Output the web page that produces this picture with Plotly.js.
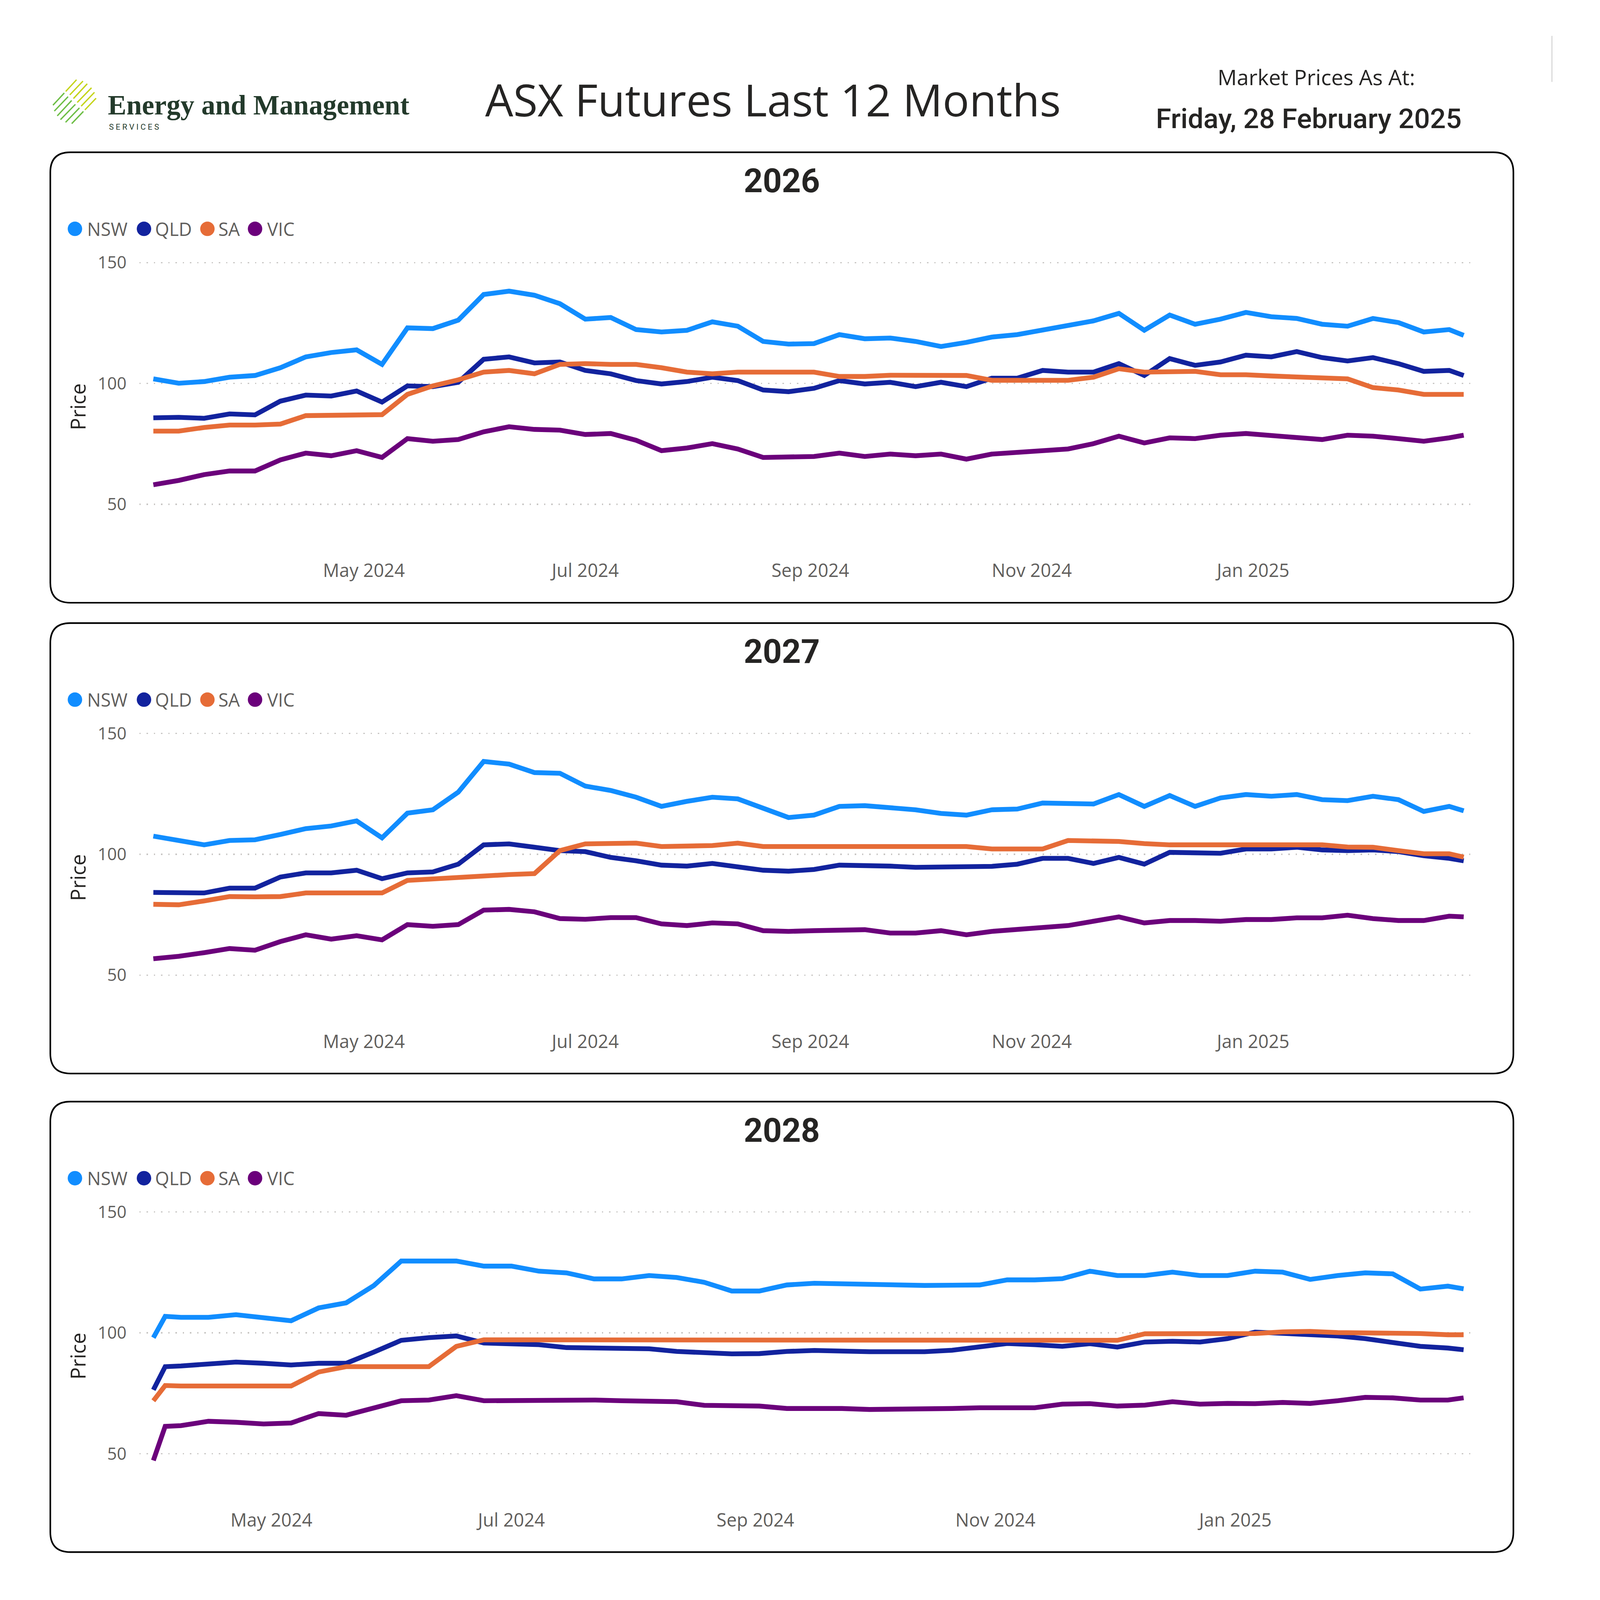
<!DOCTYPE html>
<html>
<head>
<meta charset="utf-8">
<script src="https://cdn.plot.ly/plotly-3.0.1.min.js"></script>
<style>
  html, body { margin: 0; padding: 0; background: #ffffff; overflow: hidden; }
</style>
</head>
<body>
<div id="chart"></div>
<script>
// ---- data (weekly samples) ----
const regions = ['NSW', 'QLD', 'SA', 'VIC'];
const regionColors = ['#118DFF', '#12239E', '#E66C37', '#6B007B'];
const years = ['2026', '2027', '2028'];

const weeks = ['2024-03-04','2024-03-11','2024-03-18','2024-03-25','2024-04-01','2024-04-08','2024-04-15','2024-04-22','2024-04-29',
  '2024-05-06','2024-05-13','2024-05-20','2024-05-27','2024-06-03','2024-06-10','2024-06-17','2024-06-24','2024-07-01','2024-07-08',
  '2024-07-15','2024-07-22','2024-07-29','2024-08-05','2024-08-12','2024-08-19','2024-08-26','2024-09-02','2024-09-09','2024-09-16',
  '2024-09-23','2024-09-30','2024-10-07','2024-10-14','2024-10-21','2024-10-28','2024-11-04','2024-11-11','2024-11-18','2024-11-25',
  '2024-12-02','2024-12-09','2024-12-16','2024-12-23','2024-12-30','2025-01-06','2025-01-13','2025-01-20','2025-01-27','2025-02-03',
  '2025-02-10','2025-02-17','2025-02-24','2025-02-28'];
// the 2028 contract only trades from April
const weeks28 = ['2024-04-01','2024-04-04'].concat(weeks.slice(5));

const nsw2026 = [101.9,100.1,100.8,102.6,103.3,106.5,111.0,112.8,113.9,107.9,123.0,122.7,126.2,136.8,138.2,136.5,133.0,126.6,127.3,122.3,
  121.3,122.0,125.5,123.7,117.4,116.3,116.5,120.2,118.5,118.8,117.4,115.3,117.0,119.2,120.2,122.0,123.7,125.9,129.0,122.0,128.3,124.5,
  126.6,129.4,127.6,126.9,124.5,123.7,126.9,125.2,121.3,122.3,119.9];
const qld2026 = [85.8,86.0,85.6,87.4,87.0,92.7,95.2,94.8,96.9,92.3,99.0,98.7,100.5,110.0,111.0,108.5,108.9,105.4,104.0,101.2,
  99.8,100.8,102.6,101.2,97.3,96.6,98.0,101.2,99.8,100.5,98.7,100.5,98.7,102.2,102.2,105.4,104.7,104.7,108.2,103.3,110.3,107.5,
  108.9,111.7,111.0,113.2,110.7,109.3,110.7,108.2,105.0,105.4,103.3];
const sa2026 = [80.3,80.3,81.8,82.8,82.8,83.2,86.7,86.7,87.1,87.1,95.5,99.0,101.5,104.7,105.4,104.0,107.9,108.2,107.9,107.9,
  106.5,104.7,104.0,104.7,104.7,104.7,104.7,102.9,102.9,103.4,103.4,103.4,103.3,101.3,101.3,101.3,101.3,102.6,106.1,104.7,104.7,105.0,
  103.6,103.6,103.1,102.7,102.4,101.9,98.3,97.3,95.5,95.5,95.5];
const vic2026 = [58.1,59.9,62.3,63.8,63.8,68.4,71.2,70.1,72.2,69.4,77.2,76.1,76.8,80.0,82.1,81.0,80.7,78.9,79.3,76.5,
  72.2,73.3,75.1,72.9,69.4,69.8,69.8,71.2,69.8,70.8,70.1,70.8,68.7,70.8,71.5,71.9,72.9,75.1,78.2,75.4,77.5,77.2,
  78.6,79.3,78.6,77.9,76.8,78.6,78.2,77.2,76.1,77.5,78.6];

const nsw2027 = [107.5,105.7,103.9,105.7,106.0,108.2,110.6,111.7,113.8,106.8,117.0,118.4,125.7,138.4,137.3,133.8,133.5,128.2,126.4,123.6,
  119.8,121.9,123.6,122.9,119.1,115.2,116.2,119.8,120.1,119.4,118.4,116.9,116.2,118.4,118.7,121.2,121.2,120.8,124.7,119.8,124.3,119.8,
  123.3,124.7,124.0,124.7,122.6,122.2,124.0,122.6,117.7,119.8,118.0];
const qld2027 = [84.2,83.9,84.0,86.0,86.0,90.6,92.3,92.3,93.4,89.9,92.3,92.7,95.9,103.9,104.3,102.9,101.5,101.1,98.7,97.3,
  95.5,95.1,96.2,94.8,93.4,93.0,93.7,95.5,95.5,95.1,94.6,94.8,94.8,95.0,95.9,98.3,98.3,96.2,98.7,95.9,100.8,100.8,
  100.4,102.2,102.2,102.9,101.8,101.5,101.8,101.1,99.4,98.3,97.3];
const sa2027 = [79.3,79.1,80.7,82.5,82.4,82.5,84.0,84.0,84.0,84.0,89.2,89.9,90.6,91.3,91.6,92.0,101.5,104.3,104.6,104.6,
  103.2,103.2,103.6,104.6,103.2,103.2,103.2,103.2,103.2,103.2,103.2,103.2,103.2,102.2,102.2,102.2,105.7,105.3,105.3,104.4,103.9,103.9,
  103.9,103.9,103.9,103.9,103.9,103.0,102.9,101.5,100.2,100.2,98.8];
const vic2027 = [56.8,57.8,59.3,61.0,60.3,63.9,66.7,64.9,66.3,64.6,70.9,70.2,70.9,76.9,77.2,76.2,73.4,73.1,73.8,73.8,
  71.2,70.5,71.6,71.2,68.4,68.1,68.4,68.8,68.8,67.4,67.4,68.4,66.7,68.1,68.8,69.8,70.5,72.3,74.1,71.6,72.6,72.6,
  72.3,73.0,73.0,73.7,73.7,74.8,73.4,72.6,72.6,74.4,74.1];

const nsw2028 = [98.0,106.8,106.4,106.4,107.5,106.1,105.0,110.3,112.4,119.5,129.7,129.7,129.7,127.6,127.6,125.5,124.8,122.3,122.3,123.7,
  122.9,120.9,117.3,117.3,119.8,120.5,120.3,119.8,119.7,119.6,119.7,119.8,121.9,121.9,122.4,125.5,123.7,123.7,125.1,123.7,
  123.7,125.5,125.1,122.1,123.7,124.8,124.4,118.1,119.3,118.2];
const qld2028 = [76.4,86.0,86.3,87.0,87.9,87.4,86.7,87.4,87.4,92.0,96.9,98.0,98.7,95.8,95.5,95.1,93.9,93.7,93.4,93.4,
  92.3,91.6,91.3,91.4,92.3,92.7,92.3,92.2,92.2,92.2,92.8,94.1,95.6,95.1,94.4,95.5,94.1,96.2,96.5,96.2,
  97.6,100.3,99.9,99.4,98.7,97.6,96.2,94.4,93.7,93.0];
const sa2028 = [71.9,78.2,78.0,78.0,78.0,78.0,78.0,83.8,86.0,86.0,86.0,86.0,94.4,97.1,97.1,97.1,97.1,97.1,97.1,97.1,
  97.1,97.1,97.1,97.1,97.1,97.0,97.0,97.0,97.0,97.0,97.0,97.0,97.0,97.0,97.0,97.0,96.9,99.6,99.7,99.7,
  99.7,99.7,100.4,100.6,100.1,100.1,100.1,99.7,99.2,99.2];
const vic2028 = [47.2,61.3,61.6,63.4,63.0,62.3,62.7,66.6,65.9,68.7,71.9,72.2,74.0,71.9,72.0,72.2,72.2,72.2,71.9,71.5,
  71.5,70.0,70.0,69.7,68.7,68.8,68.7,68.3,68.3,68.3,68.7,69.0,69.0,69.0,70.5,70.7,69.7,70.1,71.5,70.5,
  70.8,70.7,71.2,70.8,71.9,73.3,73.1,72.2,72.2,73.1];

const monthTicks = ['2024-05-01', '2024-07-01', '2024-09-01', '2024-11-01', '2025-01-01'];
const monthLabels = ['May 2024', 'Jul 2024', 'Sep 2024', 'Nov 2024', 'Jan 2025'];
const priceTicks = [50, 100, 150];

const pageTitle = 'ASX Futures Last 12 Months';
const asAtLabel = 'Market Prices As At:';
const asAtDate = 'Friday, 28 February 2025';


window.addEventListener('DOMContentLoaded', init);

// layout is worked out on a 5910 x 5978 page and scaled to the window
const W = 5910;
const H = 5978;
const TEXT = '#252423';
const GREY = '#605E5C';
let S = 1;

function px(x) { return x / W; }
function py(y) { return 1 - y / H; }
function z(v) { return v * S; }

function init() {
    let vw = window.innerWidth || W;
    let vh = window.innerHeight || H;
    S = Math.min(vw / W, vh / H);
    if (!isFinite(S) || S <= 0) S = 1;

    let panels = [
        { year: years[0], dates: weeks,   series: [nsw2026, qld2026, sa2026, vic2026], range: ['2024-02-29 04:00', '2025-03-03 00:00'], top: 569 },
        { year: years[1], dates: weeks,   series: [nsw2027, qld2027, sa2027, vic2027], range: ['2024-02-29 04:00', '2025-03-03 00:00'], top: 2328 },
        { year: years[2], dates: weeks28, series: [nsw2028, qld2028, sa2028, vic2028], range: ['2024-03-28 11:00', '2025-03-02 19:00'], top: 4116 }
    ];

    let data = [];
    let layout = {
        width: Math.floor(W * S), height: Math.floor(H * S),
        margin: { l: 0, r: 0, t: 0, b: 0 },
        paper_bgcolor: '#ffffff',
        plot_bgcolor: 'rgba(0,0,0,0)',
        showlegend: false,
        shapes: [],
        annotations: []
    };

    headerItems(layout);

    panels.forEach((p, k) => {
        let n = k === 0 ? '' : String(k + 1);
        let plotTop = p.top + 367;
        let plotBottom = plotTop + 1129;

        p.series.forEach((values, j) => {
            data.push({
                x: p.dates, y: values,
                xaxis: 'x' + n, yaxis: 'y' + n,
                type: 'scatter', mode: 'lines',
                name: regions[j],
                line: { color: regionColors[j], width: z(18) },
                hoverinfo: 'skip'
            });
        });

        layout['xaxis' + n] = {
            domain: [px(521), px(5510)],
            anchor: 'y' + n,
            type: 'date',
            range: p.range,
            tickvals: monthTicks,
            ticktext: monthLabels,
            showgrid: false, zeroline: false, showline: false,
            ticks: '',
            ticklabelstandoff: Math.round(z(22)),   // must be an integer
            tickfont: { family: 'Open Sans', size: z(68), color: GREY }
        };
        layout['yaxis' + n] = {
            domain: [py(plotBottom), py(plotTop)],
            anchor: 'x' + n,
            range: [30, 155],
            tickvals: priceTicks,
            showgrid: true,
            gridcolor: '#C8C6C4',
            gridwidth: z(5),
            griddash: z(5).toFixed(1) + 'px,' + z(22).toFixed(1) + 'px',
            zeroline: false, showline: false,
            ticks: '',
            ticklabelstandoff: Math.round(z(46)),
            tickfont: { family: 'Open Sans', size: z(63), color: GREY }
        };

        // card behind each chart
        layout.shapes.push({
            type: 'path', xref: 'paper', yref: 'paper', layer: 'below',
            path: roundRect(188, p.top, 5655, p.top + 1683, 75),
            line: { color: '#000000', width: z(6) }, fillcolor: 'rgba(0,0,0,0)'
        });

        layout.annotations.push({
            xref: 'paper', yref: 'paper', x: px(2921), y: py(p.top + 107),
            xanchor: 'center', yanchor: 'middle', showarrow: false,
            text: p.year,
            font: { family: 'Roboto', size: z(124), color: TEXT, weight: 700 }
        });

        layout.annotations.push({
            xref: 'paper', yref: 'paper', x: px(290), y: py(p.top + 951),
            xanchor: 'center', yanchor: 'middle', showarrow: false, textangle: -90,
            text: 'Price',
            font: { family: 'Open Sans', size: z(76), color: TEXT }
        });

        legendItems(layout, p.top + 286);
    });

    Plotly.newPlot('chart', data, layout, { staticPlot: true });
}


function legendItems(layout, y) {
    let dotX = [280, 538, 775, 953];
    let textX = [323, 577, 813, 995];
    let r = 27;
    regions.forEach((name, j) => {
        layout.shapes.push({
            type: 'circle', xref: 'paper', yref: 'paper',
            x0: px(dotX[j] - r), x1: px(dotX[j] + r), y0: py(y + r), y1: py(y - r),
            fillcolor: regionColors[j], line: { width: 0 }
        });
        layout.annotations.push({
            xref: 'paper', yref: 'paper', x: px(textX[j]), y: py(y),
            xanchor: 'left', yanchor: 'middle', showarrow: false,
            text: name,
            font: { family: 'Open Sans', size: z(68), color: GREY }
        });
    });
}


function headerItems(layout) {
    layout.annotations.push({
        xref: 'paper', yref: 'paper', x: px(2889), y: py(370),
        xanchor: 'center', yanchor: 'middle', showarrow: false,
        text: pageTitle,
        font: { family: 'Open Sans', size: z(166), color: TEXT }
    });
    layout.annotations.push({
        xref: 'paper', yref: 'paper', x: px(4919), y: py(287),
        xanchor: 'center', yanchor: 'middle', showarrow: false,
        text: asAtLabel,
        font: { family: 'Open Sans', size: z(80), color: TEXT }
    });
    layout.annotations.push({
        xref: 'paper', yref: 'paper', x: px(4891), y: py(443),
        xanchor: 'center', yanchor: 'middle', showarrow: false,
        text: asAtDate,
        font: { family: 'Roboto', size: z(104), color: TEXT, weight: 500 }
    });

    // logo wordmark
    layout.annotations.push({
        xref: 'paper', yref: 'paper', x: px(400), y: py(392),
        xanchor: 'left', yanchor: 'middle', showarrow: false,
        text: 'Energy and Management',
        font: { family: 'Liberation Serif', size: z(104), color: '#233A2B', weight: 700 }
    });
    layout.annotations.push({
        xref: 'paper', yref: 'paper', x: px(404), y: py(475),
        xanchor: 'left', yanchor: 'middle', showarrow: false,
        text: 'S E R V I C E S',
        font: { family: 'Roboto', size: z(30), color: '#233A2B' }
    });

    // logo stripes: green lower part, lime upper part
    let bottoms = [[198, 393], [203, 415], [214, 433], [226, 447], [245, 457], [268, 462]];
    let tops = [[286, 298], [310, 303], [326, 313], [342, 328], [353, 345], [359, 367]];
    bottoms.forEach((b, k) => {
        let t = tops[k];
        let mx = b[0] + (t[0] - b[0]) * 0.48, my = b[1] + (t[1] - b[1]) * 0.48;
        let gx = b[0] + (t[0] - b[0]) * 0.54, gy = b[1] + (t[1] - b[1]) * 0.54;
        layout.shapes.push({ type: 'line', xref: 'paper', yref: 'paper',
            x0: px(b[0]), y0: py(b[1]), x1: px(mx), y1: py(my), line: { color: '#6DBE45', width: z(5) } });
        layout.shapes.push({ type: 'line', xref: 'paper', yref: 'paper',
            x0: px(gx), y0: py(gy), x1: px(t[0]), y1: py(t[1]), line: { color: '#C5D41A', width: z(5) } });
    });

    // thin scrollbar remnant at top right
    layout.shapes.push({ type: 'line', xref: 'paper', yref: 'paper',
        x0: px(5799), y0: py(134), x1: px(5799), y1: py(306), line: { color: '#D6D6D6', width: z(4) } });
}


function roundRect(x0, y0, x1, y1, r) {
    let X = v => (v / W).toFixed(5);
    let Y = v => (1 - v / H).toFixed(5);
    return 'M' + X(x0 + r) + ',' + Y(y0) +
        ' L' + X(x1 - r) + ',' + Y(y0) +
        ' Q' + X(x1) + ',' + Y(y0) + ' ' + X(x1) + ',' + Y(y0 + r) +
        ' L' + X(x1) + ',' + Y(y1 - r) +
        ' Q' + X(x1) + ',' + Y(y1) + ' ' + X(x1 - r) + ',' + Y(y1) +
        ' L' + X(x0 + r) + ',' + Y(y1) +
        ' Q' + X(x0) + ',' + Y(y1) + ' ' + X(x0) + ',' + Y(y1 - r) +
        ' L' + X(x0) + ',' + Y(y0 + r) +
        ' Q' + X(x0) + ',' + Y(y0) + ' ' + X(x0 + r) + ',' + Y(y0) + ' Z';
}
</script>
</body>
</html>
